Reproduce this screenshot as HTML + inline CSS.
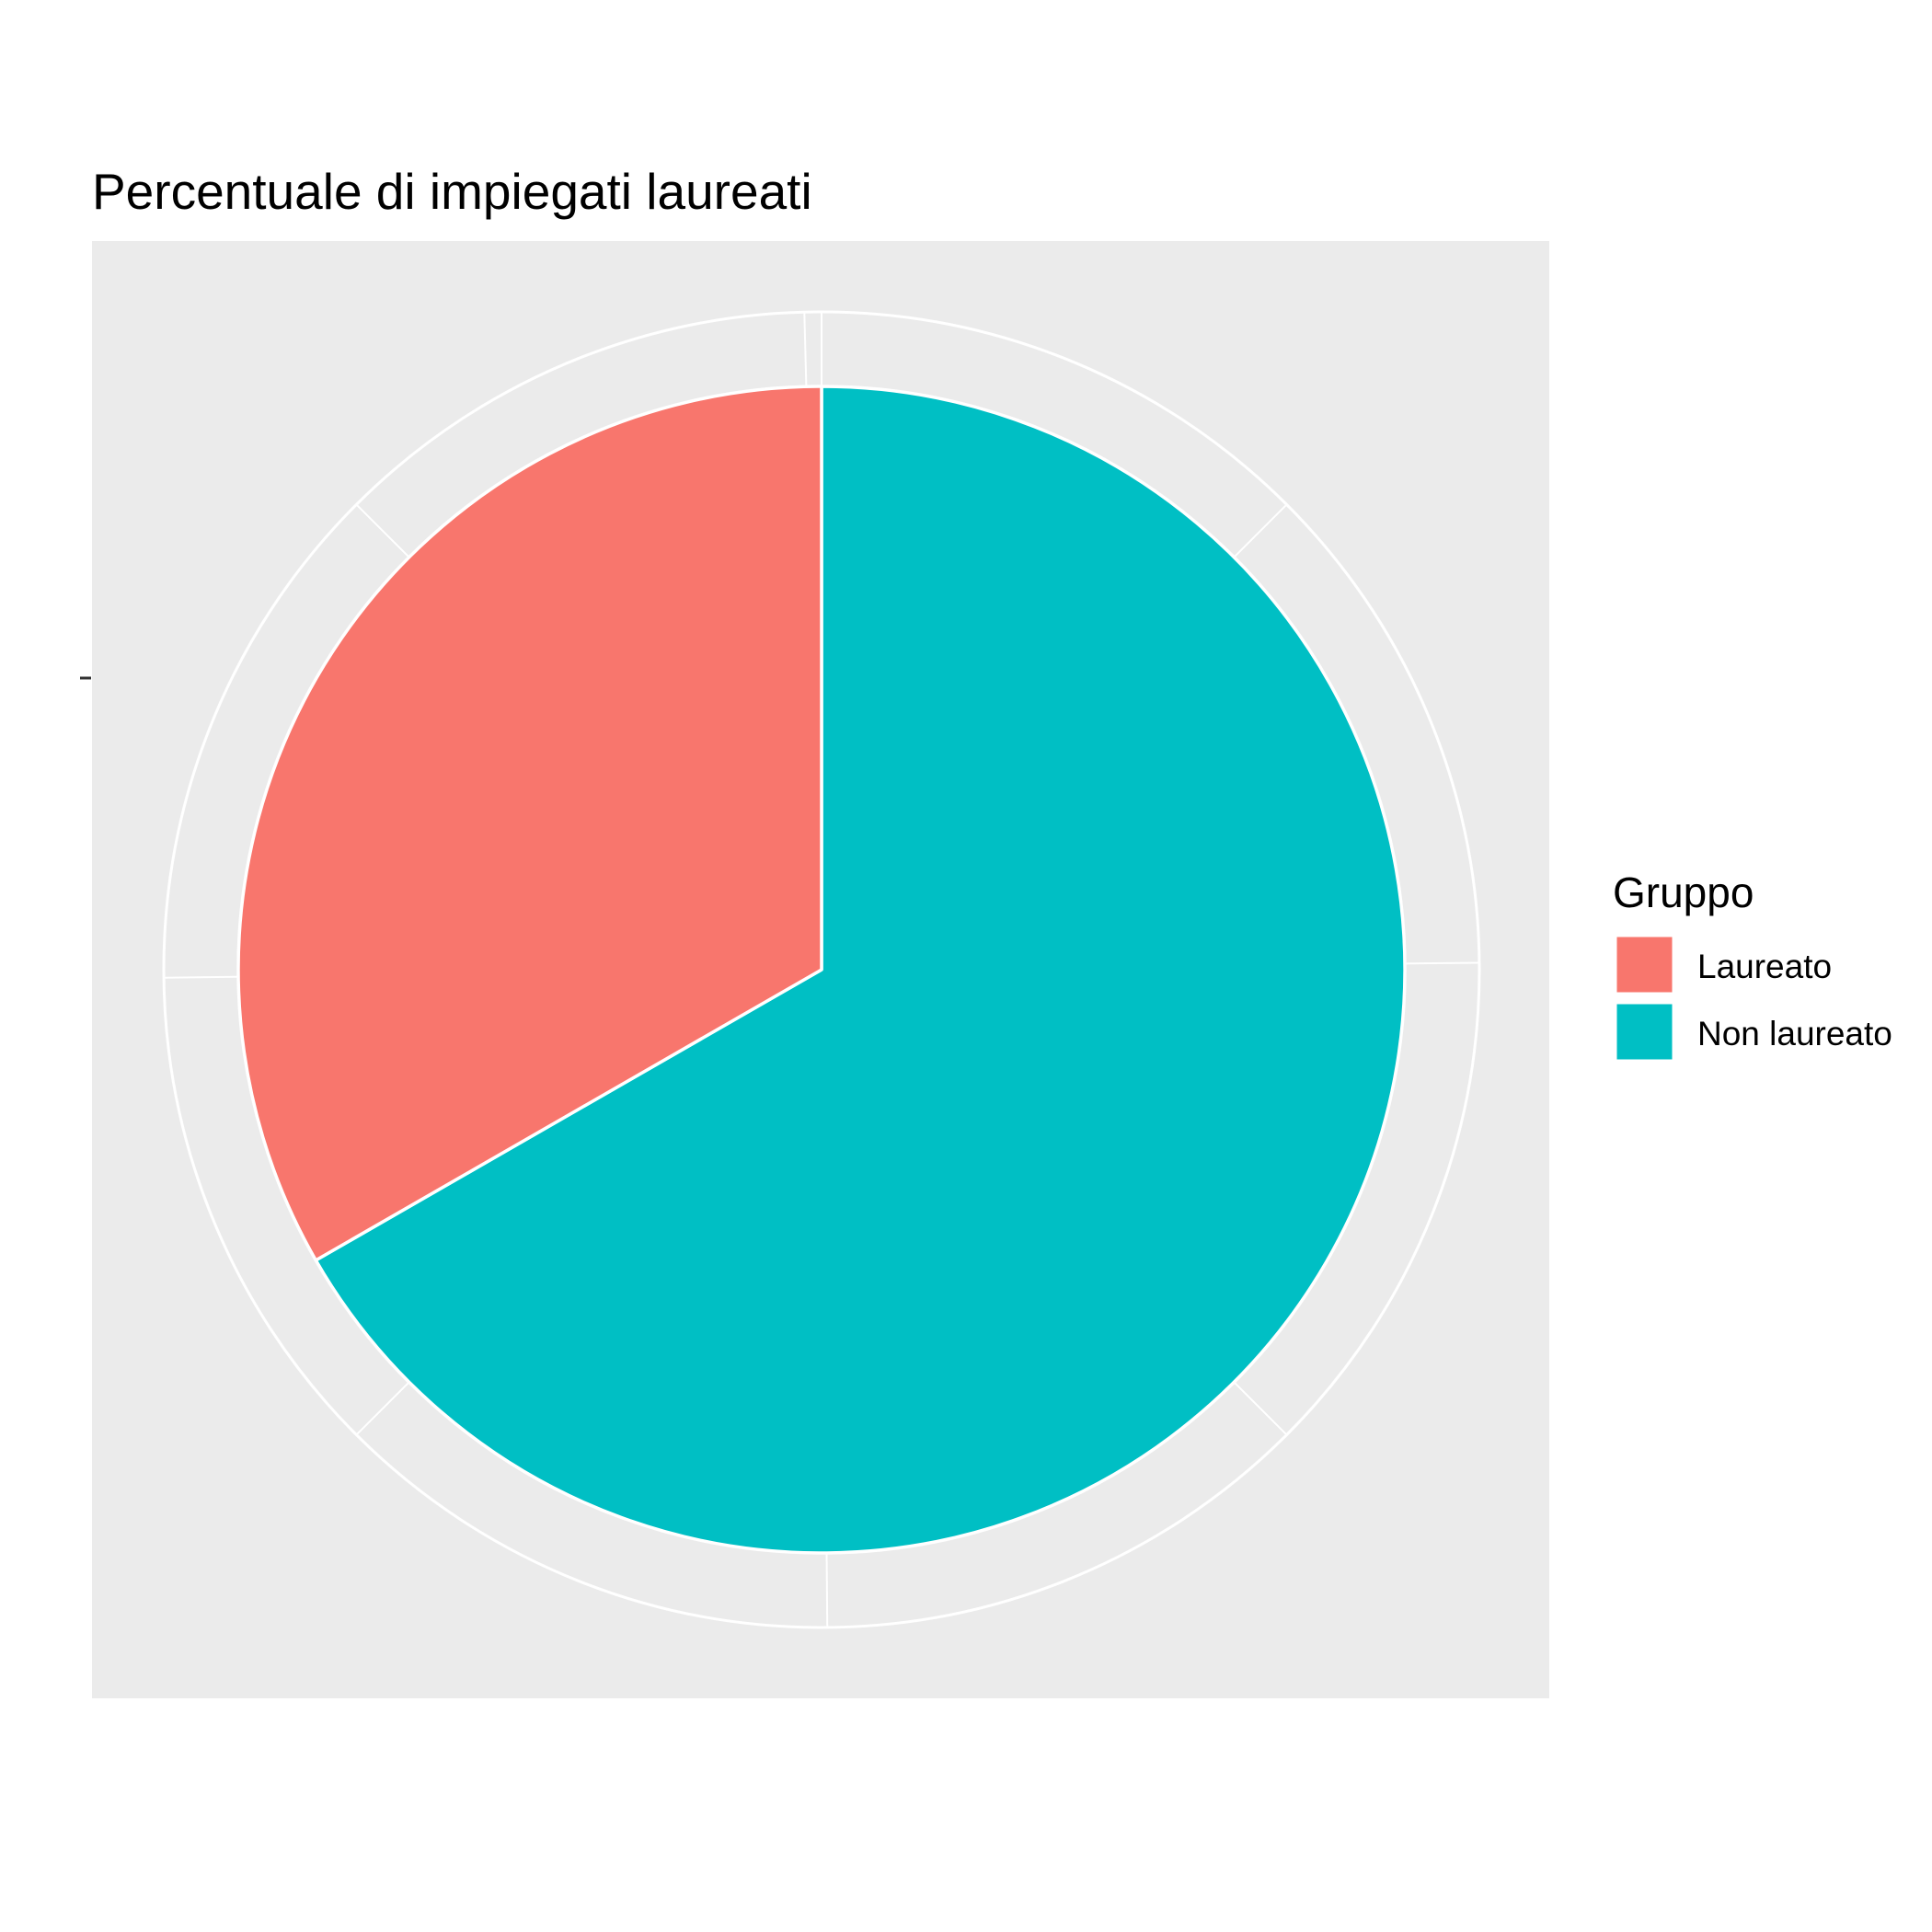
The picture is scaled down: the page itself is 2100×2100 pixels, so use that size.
<!DOCTYPE html>
<html><head><meta charset="utf-8"><style>
html,body{margin:0;padding:0;background:#fff;}
svg{display:block;font-family:"Liberation Sans",Arial,sans-serif;}
</style></head><body>
<svg id="chart" width="2100" height="2100" viewBox="0 0 2100 2100">
<rect x="0" y="0" width="2100" height="2100" fill="#ffffff"/>
<text x="100" y="227" font-size="55" fill="#000">Percentuale di impiegati laureati</text>
<rect x="100" y="262" width="1584" height="1584" fill="#ebebeb"/>
<line x1="87" y1="737" x2="99" y2="737" stroke="#333" stroke-width="3"/>
<g id="grid"></g>
<g id="slices"></g>
<text x="1753" y="986" font-size="46" fill="#000">Gruppo</text>
<g>
<rect x="1756" y="1017" width="63" height="63" fill="#F8766D" stroke="#fff" stroke-width="3"/>
<text x="1845" y="1063" font-size="37" fill="#000">Laureato</text>
</g>
<g>
<rect x="1756" y="1090" width="63" height="63" fill="#00BFC4" stroke="#fff" stroke-width="3"/>
<text x="1845" y="1136" font-size="37" fill="#000">Non laureato</text>
</g>
</svg>
<script>
const categories = ["Non laureato", "Laureato"];
const values = [66.7, 33.3];
const colors = ["#00BFC4", "#F8766D"];
const gridAngles = [-1.5, 0, 45, 89.4, 135, 179.5, 225, 269.3, 315];

const NS = "http://www.w3.org/2000/svg";
const cx = 893, cy = 1054, rPie = 634, rRing = 715;
function pt(angDeg, r) {
  const a = angDeg * Math.PI / 180;
  return [cx + r * Math.sin(a), cy - r * Math.cos(a)];
}
const grid = document.getElementById("grid");
const ring = document.createElementNS(NS, "circle");
ring.setAttribute("cx", cx); ring.setAttribute("cy", cy); ring.setAttribute("r", rRing);
ring.setAttribute("fill", "none"); ring.setAttribute("stroke", "#fff"); ring.setAttribute("stroke-width", "3");


grid.appendChild(ring);
gridAngles.forEach(function (g) {
  const p0 = pt(g, 0), p1 = pt(g, rRing);
  const l = document.createElementNS(NS, "line");
  l.setAttribute("x1", p0[0]); l.setAttribute("y1", p0[1]);
  l.setAttribute("x2", p1[0]); l.setAttribute("y2", p1[1]);
  l.setAttribute("stroke", "#fff"); l.setAttribute("stroke-width", "2");
  
  
  grid.appendChild(l);
});
const slices = document.getElementById("slices");
const total = values.reduce((a, b) => a + b, 0);
let start = 0;
values.forEach(function (v, i) {
  const sweep = v / total * 360;
  const a0 = start, a1 = start + sweep;
  const p0 = pt(a0, rPie), p1 = pt(a1, rPie);
  const large = sweep > 180 ? 1 : 0;
  const path = document.createElementNS(NS, "path");
  path.setAttribute("d", "M" + cx + "," + cy + " L" + p0[0] + "," + p0[1] + " A" + rPie + "," + rPie + " 0 " + large + " 1 " + p1[0] + "," + p1[1] + " Z");
  path.setAttribute("fill", colors[i]);
  path.setAttribute("stroke", "#fff");
  path.setAttribute("stroke-width", "3.5");
  path.setAttribute("stroke-linejoin", "round");
  
  
  slices.appendChild(path);
  start = a1;
});
</script>
</body></html>
